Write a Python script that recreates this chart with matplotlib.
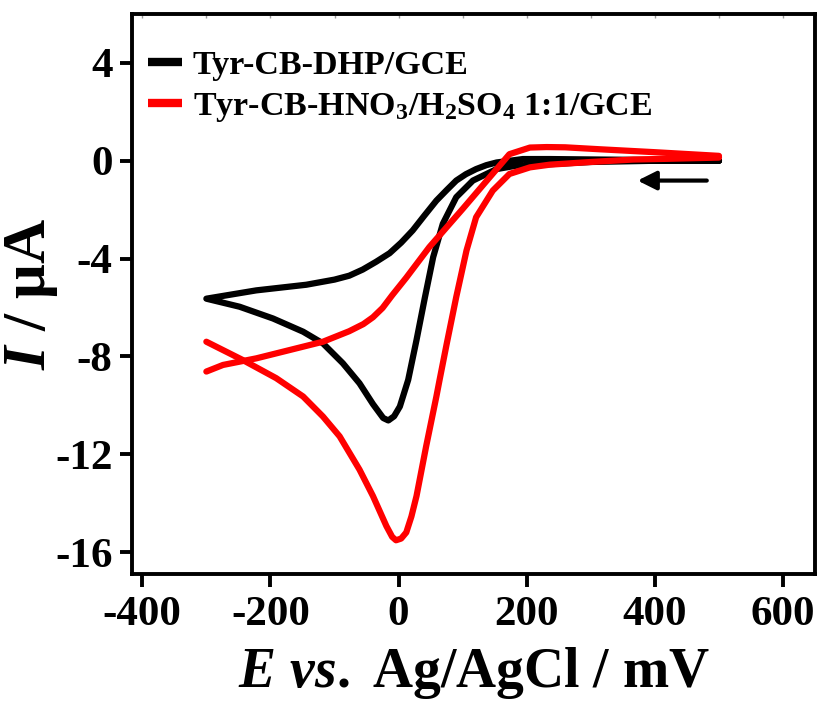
import matplotlib
matplotlib.use("Agg")
import matplotlib.pyplot as plt

plt.rcParams['font.family'] = ['Liberation Serif', 'DejaVu Serif']
plt.rcParams['font.weight'] = 'bold'
plt.rcParams['mathtext.fontset'] = 'custom'
plt.rcParams['mathtext.rm'] = 'Liberation Serif:bold'
plt.rcParams['mathtext.bf'] = 'Liberation Serif:bold'
plt.rcParams['mathtext.it'] = 'Liberation Serif:italic:bold'
plt.rcParams['mathtext.default'] = 'rm'

# ---- data (E in mV, I in uA) ----
# Tyr-CB-DHP/GCE: cathodic sweep 500 -> -300, then anodic return -300 -> 500
black_E = [500, 400, 300, 236, 184, 153, 116, 90, 69, 54, 41, 28, 15, 2, -7, -16, -24, -40,
           -61, -87, -118, -149, -196, -248, -300,
           -222, -144, -100, -77, -56, -35, -14, 4, 22, 40, 59, 75, 90, 105, 121, 137, 153,
           194, 236, 314, 400, 500]
black_I = [0.0, 0.0, -0.05, -0.14, -0.2, -0.34, -0.81, -1.49, -2.58, -3.94, -5.6, -7.33,
           -8.96, -10.05, -10.45, -10.62, -10.52, -9.95, -9.1, -8.28, -7.47, -6.99, -6.45,
           -5.97, -5.64,
           -5.3, -5.07, -4.86, -4.7, -4.45, -4.13, -3.78, -3.35, -2.85, -2.25, -1.63, -1.2,
           -0.81, -0.55, -0.34, -0.18, -0.07, 0.07, 0.07, 0.05, 0.03, 0.0]

# Tyr-CB-HNO3/H2SO4 1:1/GCE: cathodic branch and anodic branch (ends not joined)
red_cat_E = [500, 420, 366, 300, 236, 205, 173, 147, 121, 106, 90, 75, 64, 59, 43, 28, 20,
             12, 4, -4, -10, -19, -40, -61, -92, -118, -149, -191, -243, -300]
red_cat_I = [0.13, 0.08, 0.05, -0.05, -0.16, -0.27, -0.54, -1.22, -2.31, -3.67, -5.57,
             -7.5, -8.96, -9.64, -11.68, -13.71, -14.55, -15.2, -15.45, -15.52, -15.38,
             -14.94, -13.71, -12.63, -11.27, -10.46, -9.64, -8.89, -8.15, -7.4]
red_an_E = [-300, -274, -222, -170, -118, -77, -55, -40, -25, -10, 12, 48, 100, 142, 173,
            205, 231, 260, 314, 400, 500]
red_an_I = [-8.62, -8.35, -8.08, -7.74, -7.4, -6.97, -6.68, -6.4, -6.02, -5.5, -4.78,
            -3.53, -1.97, -0.68, 0.27, 0.54, 0.56, 0.55, 0.47, 0.35, 0.2]

labels = ["Tyr-CB-DHP/GCE", "Tyr-CB-HNO$_3$/H$_2$SO$_4$ 1:1/GCE"]
colors = ["black", "#ff0000"]
x_ticks = [-400, -200, 0, 200, 400, 600]
y_ticks = [4, 0, -4, -8, -12, -16]
arrow_start = (481, -0.81)
arrow_end = (373, -0.81)

fig = plt.figure(figsize=(8.2, 7.02), dpi=100)
ax = fig.add_axes([0.161, 0.1823, 0.833, 0.7977])

kw = dict(lw=4.5, solid_joinstyle='round', solid_capstyle='round')
ax.plot(black_E, black_I, color=colors[0], label=labels[0], **kw)
ax.plot(red_cat_E, red_cat_I, color=colors[1], label=labels[1], **kw)
ax.plot(red_an_E, red_an_I, color=colors[1], **kw)

ax.annotate('', xy=arrow_end, xytext=arrow_start,
            arrowprops=dict(arrowstyle='-|>', color='black', lw=3, mutation_scale=28,
                            shrinkA=0, shrinkB=0))

ax.set_xlim(-416, 650)
ax.set_ylim(-16.9, 6)
ax.set_xticks(x_ticks)
ax.set_xticklabels([str(v) for v in x_ticks])
ax.set_yticks(y_ticks)
ax.set_yticklabels([str(v) for v in y_ticks])

ax.tick_params(axis='both', which='major', direction='out', length=9, width=2.8,
               labelsize=31)
ax.tick_params(axis='x', pad=7)
ax.tick_params(axis='y', pad=5)
for s in ax.spines.values():
    s.set_linewidth(2.8)

top = ax.secondary_xaxis('top')
top.set_xticks(list(range(-400, 601, 100)))
top.tick_params(direction='in', length=3, width=1, color='#999999', labeltop=False)
top.spines['top'].set_visible(False)

ax.set_xlabel(r"$\mathit{E\ vs.}$ Ag/AgCl / mV", fontsize=40, fontweight='bold', labelpad=8)
ax.set_ylabel(r"$\mathit{I}$ / μA", fontsize=44, fontweight='bold')
ax.yaxis.set_label_coords(-0.105, 0.5)

leg = ax.legend(loc='upper left', bbox_to_anchor=(0.004, 0.96), frameon=False,
                fontsize=24.5, handlelength=1.0, handletextpad=0.3, labelspacing=0.3,
                borderaxespad=0)
for h in leg.get_lines():
    h.set_linewidth(6)
    h.set_solid_capstyle('butt')

fig.savefig("out.png", dpi=100)
